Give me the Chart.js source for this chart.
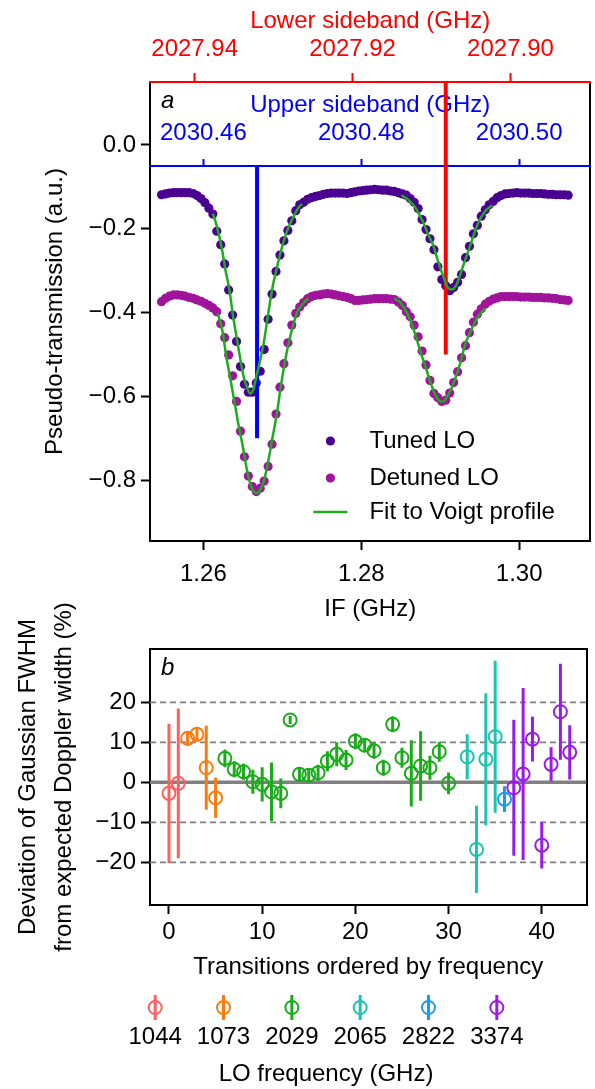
<!DOCTYPE html>
<html>
<head>
<meta charset="utf-8">
<script src="https://cdn.jsdelivr.net/npm/chart.js@4.4.1/dist/chart.umd.min.js"></script>
<style>
  html, body { margin: 0; padding: 0; background: #fff; overflow: hidden; }
  .panel { position: absolute; left: 0; width: 595px; }
</style>
</head>
<body>
<div class="panel" style="top:0;height:630px"><canvas id="spectrum"></canvas></div>
<div class="panel" style="top:560px;height:425px"><canvas id="widths"></canvas></div>
<div class="panel" style="top:985px;height:104px"><canvas id="loKey"></canvas></div>
<script>
// ---- panel a: pseudo-transmission vs IF ----
const ifGrid = [
  1.2547, 1.2552, 1.2557, 1.2562, 1.2567, 1.2572, 1.2577, 1.2582, 1.2587, 1.2592,
  1.2597, 1.2602, 1.2607, 1.2612, 1.2617, 1.2622, 1.2627, 1.2632, 1.2637, 1.2642,
  1.2647, 1.2652, 1.2657, 1.2662, 1.2667, 1.2672, 1.2677, 1.2682, 1.2687, 1.2692,
  1.2697, 1.2702, 1.2707, 1.2712, 1.2717, 1.2722, 1.2727, 1.2732, 1.2737, 1.2742,
  1.2747, 1.2752, 1.2757, 1.2762, 1.2767, 1.2772, 1.2777, 1.2782, 1.2787, 1.2792,
  1.2797, 1.2802, 1.2807, 1.2812, 1.2817, 1.2822, 1.2827, 1.2832, 1.2837, 1.2842,
  1.2847, 1.2852, 1.2857, 1.2862, 1.2867, 1.2872, 1.2877, 1.2882, 1.2887, 1.2892,
  1.2897, 1.2902, 1.2907, 1.2912, 1.2917, 1.2922, 1.2927, 1.2932, 1.2937, 1.2942,
  1.2947, 1.2952, 1.2957, 1.2962, 1.2967, 1.2972, 1.2977, 1.2982, 1.2987, 1.2992,
  1.2997, 1.3002, 1.3007, 1.3012, 1.3017, 1.3022, 1.3027, 1.3032, 1.3037, 1.3042,
  1.3047, 1.3052, 1.3057, 1.3062
];
const tunedLO = [
  -0.119, -0.117, -0.115, -0.114, -0.114, -0.114, -0.114, -0.114, -0.116, -0.121,
  -0.128, -0.138, -0.151, -0.165, -0.206, -0.238, -0.284, -0.346, -0.406, -0.469,
  -0.529, -0.571, -0.590, -0.590, -0.568, -0.540, -0.488, -0.416, -0.356, -0.302,
  -0.263, -0.229, -0.204, -0.181, -0.157, -0.143, -0.137, -0.130, -0.126, -0.123,
  -0.121, -0.118, -0.116, -0.115, -0.115, -0.115, -0.115, -0.116, -0.114, -0.112,
  -0.110, -0.109, -0.108, -0.107, -0.106, -0.107, -0.108, -0.108, -0.110, -0.111,
  -0.114, -0.117, -0.120, -0.128, -0.137, -0.152, -0.178, -0.202, -0.224, -0.250,
  -0.291, -0.321, -0.336, -0.348, -0.340, -0.328, -0.309, -0.269, -0.242, -0.212,
  -0.192, -0.170, -0.155, -0.143, -0.135, -0.126, -0.121, -0.117, -0.116, -0.115,
  -0.114, -0.115, -0.115, -0.115, -0.116, -0.116, -0.116, -0.117, -0.118, -0.118,
  -0.119, -0.119, -0.119, -0.120
];
const detunedLO = [
  -0.374, -0.366, -0.361, -0.358, -0.358, -0.359, -0.361, -0.364, -0.366, -0.370,
  -0.373, -0.378, -0.383, -0.389, -0.398, -0.427, -0.460, -0.501, -0.551, -0.612,
  -0.683, -0.744, -0.790, -0.815, -0.827, -0.819, -0.802, -0.767, -0.714, -0.642,
  -0.578, -0.522, -0.472, -0.430, -0.402, -0.387, -0.376, -0.367, -0.362, -0.359,
  -0.358, -0.356, -0.355, -0.356, -0.358, -0.360, -0.362, -0.364, -0.367, -0.371,
  -0.371, -0.370, -0.369, -0.368, -0.367, -0.367, -0.367, -0.367, -0.368, -0.369,
  -0.375, -0.383, -0.398, -0.410, -0.430, -0.458, -0.492, -0.525, -0.562, -0.593,
  -0.603, -0.612, -0.609, -0.592, -0.567, -0.541, -0.508, -0.479, -0.448, -0.423,
  -0.404, -0.391, -0.380, -0.373, -0.368, -0.365, -0.362, -0.362, -0.362, -0.362,
  -0.362, -0.363, -0.363, -0.363, -0.364, -0.364, -0.364, -0.365, -0.365, -0.366,
  -0.367, -0.369, -0.370, -0.371
];

// Voigt fits, one piece per dip
const fitTunedIF1 = [1.2612, 1.2617, 1.2623, 1.2628, 1.2633, 1.2637, 1.2642, 1.2647, 1.2651, 1.2656, 1.2659, 1.2663,
                     1.2667, 1.2672, 1.2677, 1.2682, 1.2687, 1.2693, 1.2698, 1.2703, 1.2708, 1.2715, 1.2721, 1.2725];
const fitTuned1 = [-0.164, -0.194, -0.243, -0.299, -0.346, -0.401, -0.458, -0.513, -0.553, -0.582, -0.593, -0.585,
                   -0.553, -0.513, -0.466, -0.404, -0.346, -0.294, -0.255, -0.222, -0.196, -0.168, -0.148, -0.141];
const fitTunedIF2 = [1.2851, 1.2859, 1.2868, 1.2874, 1.2880, 1.2885, 1.2891, 1.2896, 1.2901, 1.2906, 1.2909,
                     1.2915, 1.2919, 1.2922, 1.2926, 1.2930, 1.2936, 1.2941, 1.2946, 1.2951, 1.2958, 1.2966];
const fitTuned2 = [-0.120, -0.130, -0.148, -0.168, -0.191, -0.215, -0.239, -0.270, -0.299, -0.325, -0.339,
                   -0.345, -0.339, -0.327, -0.306, -0.283, -0.251, -0.223, -0.196, -0.175, -0.156, -0.144];
const fitDetunedIF1 = [1.2618, 1.2624, 1.2629, 1.2634, 1.2639, 1.2644, 1.2650, 1.2654, 1.2658, 1.2662, 1.2667, 1.2672,
                       1.2677, 1.2682, 1.2687, 1.2693, 1.2698, 1.2703, 1.2708, 1.2713, 1.2719, 1.2723, 1.2728, 1.2733];
const fitDetuned1 = [-0.402, -0.442, -0.505, -0.556, -0.609, -0.663, -0.720, -0.764, -0.799, -0.821, -0.831, -0.823,
                     -0.799, -0.756, -0.704, -0.642, -0.577, -0.520, -0.473, -0.435, -0.398, -0.386, -0.375, -0.366];
const fitDetunedIF2 = [1.2842, 1.2849, 1.2857, 1.2863, 1.2870, 1.2875, 1.2882, 1.2887, 1.2893, 1.2898, 1.2903,
                       1.2907, 1.2911, 1.2917, 1.2922, 1.2927, 1.2932, 1.2938, 1.2943, 1.2950, 1.2957];
const fitDetuned2 = [-0.366, -0.375, -0.398, -0.423, -0.462, -0.494, -0.533, -0.563, -0.593, -0.609, -0.613,
                     -0.606, -0.593, -0.568, -0.541, -0.509, -0.473, -0.447, -0.426, -0.404, -0.390];

// expected line positions (upper / lower sideband) drawn as vertical bars
const usbLineIF = 1.2668, usbLineY = [-0.05, -0.70];
const lsbLineIF = 1.2907, lsbLineY = [0.15, -0.50];

const ifTicks = [1.26, 1.28, 1.30];
const yTicksA = [0, -0.2, -0.4, -0.6, -0.8];
const usbTicks = [2030.46, 2030.48, 2030.50];
const lsbTicks = [2027.94, 2027.92, 2027.90];
const USB_LO = 2029.2, LSB_LO = 2029.1989;
const IF_MIN = 1.25324, IF_MAX = 1.30902, YA_MIN = -0.945, YA_MAX = 0.15;
const USB_AXIS_AT = -0.05;

// ---- panel b: Gaussian FWHM deviation per transition ----
const loFreqs = ['1044', '1073', '2029', '2065', '2822', '3374'];
const loColors = ['#ff5f5f', '#ff7a0a', '#1aab1a', '#19c4b0', '#1a9af0', '#9a1ae8'];
const transIdx = [0, 1, 2, 3, 4, 5, 6, 7, 8, 9, 10, 11, 12, 13, 14, 15, 16, 17, 18, 19, 20, 21, 22, 23, 24, 25,
                  26, 27, 28, 29, 30, 32, 33, 34, 35, 36, 37, 38, 39, 40, 41, 42, 43];
const transGroup = [0, 0, 1, 1, 1, 1, 2, 2, 2, 2, 2, 2, 2, 2, 2, 2, 2, 2, 2, 2, 2, 2, 2, 2, 2, 2,
                    2, 2, 2, 2, 2, 3, 3, 3, 3, 4, 5, 5, 5, 5, 5, 5, 5];
const fwhmDev = [-2.75, -0.25, 11.0, 12.0, 3.65, -3.85, 6.0, 3.25, 2.65, 0.15, -0.5, -2.35, -2.75, 15.6, 2.0, 1.8,
                 2.4, 5.3, 7.0, 5.6, 10.3, 9.3, 7.9, 3.65, 14.5, 6.15, 2.25, 4.1, 3.65, 7.65, -0.25,
                 6.4, -16.75, 5.8, 11.4, -4.2, -1.35, 2.1, 10.8, -15.7, 4.5, 17.65, 7.5];
const fwhmErr = [17.4, 18.7, 1.8, 1.8, 10.5, 5.0, 2.2, 2.0, 2.0, 3.0, 4.3, 7.3, 3.7, 1.0, 1.5, 1.5,
                 2.0, 2.5, 3.0, 2.5, 2.0, 1.5, 2.0, 2.0, 2.0, 2.5, 8.3, 8.7, 3.0, 2.5, 2.7,
                 5.6, 10.9, 16.5, 19.0, 3.2, 17.0, 21.5, 5.6, 5.8, 4.25, 12.0, 6.8];
const refLevels = [-20, -10, 10, 20];
const xTicksB = [0, 10, 20, 30, 40];
const yTicksB = [-20, -10, 0, 10, 20];
const XB_MIN = -2.036, XB_MAX = 44.80, YB_MIN = -30.65, YB_MAX = 33.33;

const FONT = "'Liberation Sans', Arial, sans-serif";
const RED = '#ff0000', BLUE = '#0000ff', GREEN = '#1faa1f';
const TUNED = '#4b0092', DETUNED = '#a0139b';

Chart.defaults.font.family = FONT;
Chart.defaults.font.size = 24;
Chart.defaults.color = '#000';
Chart.defaults.animation = false;
Chart.defaults.plugins.legend.display = false;
Chart.defaults.plugins.tooltip.enabled = false;

const pts = (xs, ys) => xs.map((x, i) => ({ x, y: ys[i] }));
const ticksFrom = values => scale => { scale.ticks = values.map(v => ({ value: v })); };
const minus = s => String(s).replace('-', '\u2212');
const blackGrid = { drawOnChartArea: false, tickLength: 9, tickWidth: 2, tickColor: '#000' };
// plain right-hand spine, no ticks
const rightSpine = {
  axis: 'y', type: 'linear', position: 'right',
  afterFit: s => { s.width = 1; },
  ticks: { display: false },
  grid: { display: false, drawTicks: false },
  border: { color: '#000', width: 2 }
};

const panelLabel = letter => ({
  id: 'panelLabel',
  afterDraw(chart) {
    const { ctx, chartArea } = chart;
    ctx.save();
    ctx.font = 'italic 24px ' + FONT;
    ctx.fillStyle = '#000';
    ctx.textBaseline = 'alphabetic';
    ctx.fillText(letter, chartArea.left + 11, chartArea.top + 26);
    ctx.restore();
  }
});

// legend of panel a sits inside the plot, lower right
const legendA = {
  id: 'legendA',
  afterDraw(chart) {
    const { ctx, chartArea: a } = chart;
    const mx = a.right - 260, tx = a.right - 221;
    const rows = [
      { text: 'Tuned LO', dy: -100, color: TUNED, dot: true },
      { text: 'Detuned LO', dy: -63, color: DETUNED, dot: true },
      { text: 'Fit to Voigt profile', dy: -29, color: GREEN, dot: false }
    ];
    ctx.save();
    ctx.font = '24px ' + FONT;
    ctx.textBaseline = 'middle';
    rows.forEach(r => {
      const y = a.bottom + r.dy;
      if (r.dot) {
        ctx.fillStyle = r.color;
        ctx.beginPath();
        ctx.arc(mx, y, 4.6, 0, 2 * Math.PI);
        ctx.fill();
      } else {
        ctx.strokeStyle = r.color;
        ctx.lineWidth = 2.5;
        ctx.beginPath();
        ctx.moveTo(mx - 17, y);
        ctx.lineTo(mx + 17, y);
        ctx.stroke();
      }
      ctx.fillStyle = '#000';
      ctx.fillText(r.text, tx, y);
    });
    ctx.restore();
  }
};

const fitSet = (xs, ys) => ({
  data: pts(xs, ys), showLine: true, borderColor: GREEN, borderWidth: 2.5, pointRadius: 0,
  cubicInterpolationMode: 'monotone', xAxisID: 'x', yAxisID: 'y', order: 0
});
const dotSet = (ys, color) => ({
  data: pts(ifGrid, ys), pointRadius: 4.6, pointBorderWidth: 0,
  pointBackgroundColor: color, borderColor: color, xAxisID: 'x', yAxisID: 'y', order: 2
});
const vlineSet = (x, ys, color) => ({
  data: ys.map(y => ({ x, y })), showLine: true, borderColor: color, borderWidth: 4,
  pointRadius: 0, xAxisID: 'x', yAxisID: 'y', order: 1
});

new Chart(document.getElementById('spectrum'), {
  type: 'scatter',
  data: {
    datasets: [
      fitSet(fitTunedIF1, fitTuned1), fitSet(fitTunedIF2, fitTuned2),
      fitSet(fitDetunedIF1, fitDetuned1), fitSet(fitDetunedIF2, fitDetuned2),
      vlineSet(usbLineIF, usbLineY, BLUE), vlineSet(lsbLineIF, lsbLineY, RED),
      dotSet(tunedLO, TUNED), dotSet(detunedLO, DETUNED)
    ]
  },
  options: {
    responsive: true,
    maintainAspectRatio: false,
    layout: { padding: 0 },
    scales: {
      x: {
        type: 'linear', position: 'bottom', min: IF_MIN, max: IF_MAX,
        afterBuildTicks: ticksFrom(ifTicks),
        afterFit: s => { s.height = 89; },
        ticks: { callback: v => v.toFixed(2), padding: 10, maxRotation: 0, autoSkip: false },
        grid: blackGrid,
        border: { color: '#000', width: 2 },
        title: { display: true, text: 'IF (GHz)', padding: { top: 0, bottom: 6 } }
      },
      y: {
        type: 'linear', position: 'left', min: YA_MIN, max: YA_MAX,
        afterBuildTicks: ticksFrom(yTicksA),
        afterFit: s => { s.width = 150; },
        ticks: { callback: v => minus(v.toFixed(1)), padding: 5 },
        grid: blackGrid,
        border: { color: '#000', width: 2 },
        title: { display: true, text: 'Pseudo-transmission (a.u.)', padding: { top: 41, bottom: 0 } }
      },
      yRight: { ...rightSpine, min: YA_MIN, max: YA_MAX },
      xLsb: {
        axis: 'x', type: 'linear', position: 'top', reverse: true,
        min: LSB_LO - IF_MAX, max: LSB_LO - IF_MIN,
        afterBuildTicks: ticksFrom(lsbTicks),
        afterFit: s => { s.height = 82; },
        ticks: { color: RED, callback: v => v.toFixed(2), padding: 9, maxRotation: 0, autoSkip: false },
        grid: { drawOnChartArea: false, tickLength: 9, tickWidth: 2, tickColor: RED },
        border: { color: RED, width: 2 },
        title: { display: true, text: 'Lower sideband (GHz)', color: RED, padding: { top: 7, bottom: 0 } }
      },
      xUsb: {
        axis: 'x', type: 'linear', position: { y: USB_AXIS_AT },
        min: USB_LO + IF_MIN, max: USB_LO + IF_MAX,
        afterBuildTicks: ticksFrom(usbTicks),
        ticks: { color: BLUE, callback: v => v.toFixed(2), padding: -39, maxRotation: 0, autoSkip: false },
        grid: { drawOnChartArea: false, tickLength: -8, tickWidth: 2, tickColor: BLUE },
        border: { color: BLUE, width: 2 },
        title: { display: true, text: 'Upper sideband (GHz)', color: BLUE, padding: { top: -18, bottom: 100 } }
      }
    }
  },
  plugins: [panelLabel('a'), legendA]
});

// ---- panel b ----
const widthSets = [];
refLevels.forEach(lvl => widthSets.push({
  data: [{ x: XB_MIN, y: lvl }, { x: XB_MAX, y: lvl }], showLine: true, borderColor: '#808080',
  borderWidth: 1.6, borderDash: [6, 4], pointRadius: 0, order: 6
}));
widthSets.push({
  data: [{ x: XB_MIN, y: 0 }, { x: XB_MAX, y: 0 }], showLine: true, borderColor: '#808080',
  borderWidth: 3.5, pointRadius: 0, order: 5
});
loFreqs.forEach((lo, g) => {
  const members = transIdx.map((t, i) => i).filter(i => transGroup[i] === g);
  const bars = [];
  members.forEach(i => {
    bars.push({ x: transIdx[i], y: fwhmDev[i] - fwhmErr[i] },
              { x: transIdx[i], y: fwhmDev[i] + fwhmErr[i] },
              { x: transIdx[i], y: null });
  });
  widthSets.push({ data: bars, showLine: true, spanGaps: false, borderColor: loColors[g], borderWidth: 3,
                   pointRadius: 0, order: 2 });
  widthSets.push({ data: members.map(i => ({ x: transIdx[i], y: fwhmDev[i] })), pointRadius: 6.5,
                   pointBorderWidth: 2, pointBorderColor: loColors[g], borderColor: loColors[g],
                   pointBackgroundColor: 'rgba(0,0,0,0)', backgroundColor: 'rgba(0,0,0,0)', order: 1 });
});

new Chart(document.getElementById('widths'), {
  type: 'scatter',
  data: { datasets: widthSets },
  options: {
    responsive: true,
    maintainAspectRatio: false,
    layout: { padding: 0 },
    scales: {
      x: {
        type: 'linear', position: 'bottom', min: XB_MIN, max: XB_MAX,
        afterBuildTicks: ticksFrom(xTicksB),
        afterFit: s => { s.height = 80; },
        ticks: { padding: 4, maxRotation: 0, autoSkip: false },
        grid: blackGrid,
        border: { color: '#000', width: 2 },
        title: { display: true, text: 'Transitions ordered by frequency', padding: { top: 0, bottom: 3 } }
      },
      xTop: {
        axis: 'x', type: 'linear', position: 'top', min: XB_MIN, max: XB_MAX,
        afterFit: s => { s.height = 89; },
        ticks: { display: false },
        grid: { display: false, drawTicks: false },
        border: { color: '#000', width: 2 }
      },
      y: {
        type: 'linear', position: 'left', min: YB_MIN, max: YB_MAX,
        afterBuildTicks: ticksFrom(yTicksB),
        afterFit: s => { s.width = 150; },
        ticks: { callback: v => minus(v), padding: 5 },
        grid: blackGrid,
        border: { color: '#000', width: 2 },
        title: {
          display: true, text: ['Deviation of Gaussian FWHM', 'from expected Doppler width (%)'],
          font: { lineHeight: 1.5 }, padding: { top: 10, bottom: 0 }
        }
      },
      yRight: { ...rightSpine, min: YB_MIN, max: YB_MAX }
    }
  },
  plugins: [panelLabel('b')]
});

// ---- LO frequency key below panel b ----
const keySets = [];
loFreqs.forEach((lo, g) => {
  keySets.push({ data: [{ x: lo, y: -1 }, { x: lo, y: 1 }], showLine: true, borderColor: loColors[g],
                 borderWidth: 3, pointRadius: 0, order: 2 });
  keySets.push({ data: [{ x: lo, y: 0 }], pointRadius: 6.5, pointBorderWidth: 2, pointBorderColor: loColors[g],
                 borderColor: loColors[g], pointBackgroundColor: 'rgba(0,0,0,0)', order: 1 });
});

new Chart(document.getElementById('loKey'), {
  type: 'scatter',
  data: { labels: loFreqs, datasets: keySets },
  options: {
    responsive: true,
    maintainAspectRatio: false,
    layout: { padding: { left: 121, right: 64, top: 10, bottom: 0 } },
    scales: {
      x: {
        type: 'category', position: 'bottom', offset: true,
        afterFit: s => { s.height = 69; },
        ticks: { padding: 3, maxRotation: 0, autoSkip: false },
        grid: { display: false, drawTicks: false },
        border: { display: false },
        title: { display: true, text: 'LO frequency (GHz)', padding: { top: 0, bottom: 0 } }
      },
      y: { type: 'linear', display: false, min: -1, max: 1 }
    }
  }
});
</script>
</body>
</html>
